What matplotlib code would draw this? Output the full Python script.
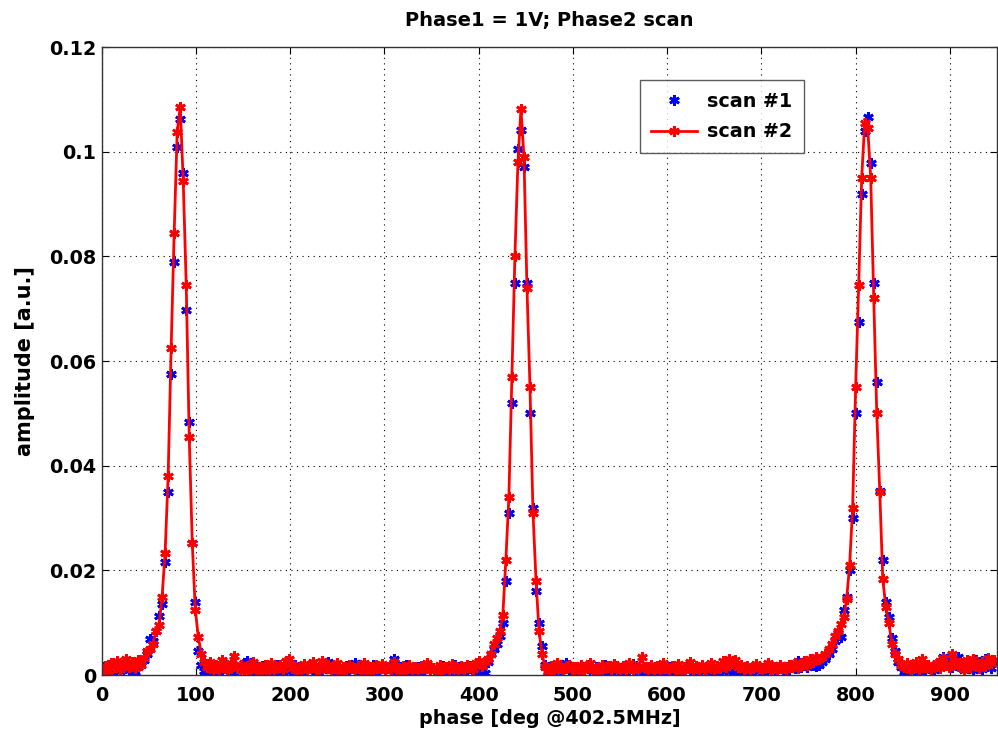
import numpy as np
import matplotlib
matplotlib.use("Agg")
import matplotlib.pyplot as plt

# Phase scan amplitudes, in units of 1e-3 a.u. (one value per scan step)
scan1_milli = [
    1.5, 0.6, 1.9, 0.4, 1.2, 2.0, 0.7, 1.4, 2.3, 0.9,
    1.8, 0.6, 1.5, 2.4, 2.8,
    4.0, 6.9, 6.5, 8.5, 11.3, 13.5, 21.6, 35.0, 57.5, 79.0,
    100.9, 106.2, 96.0, 69.8, 48.4, 25.3, 13.9, 4.6, 2.0, 0.8,
    0.5, 1.2, 1.8, 0.6, 1.4, 0.9, 2.0, 1.1, 0.5, 1.6,
    0.8, 1.3, 2.2, 2.7, 1.0, 0.6, 1.5, 0.9, 1.7, 1.2,
    0.7, 1.4, 1.0, 1.9, 0.5, 1.3, 0.8, 1.6, 1.1, 2.0,
    1.2, 0.6, 1.5, 0.9, 1.8, 1.1, 0.5, 1.4, 1.0, 1.7,
    2.4, 1.0, 0.7, 1.5, 1.2, 0.6, 1.8, 0.9, 1.4, 2.2,
    0.8, 1.3, 0.6, 1.7, 1.1, 2.0, 0.7, 1.2, 1.6, 0.9,
    1.4, 1.0, 3.1, 0.6, 1.5, 1.1, 1.9, 0.8, 1.3, 1.0,
    1.6, 0.7, 1.2, 1.8, 0.9, 1.4, 1.1, 0.6, 1.7, 1.0,
    1.3, 0.8, 1.9, 1.2, 0.7, 1.5, 1.0, 1.8, 0.9, 0.5,
    0.4, 1.5, 0.3,
    2.5, 4.0, 5.0, 6.0, 7.5, 10.0, 18.0, 31.0, 52.0, 75.0,
    100.5, 104.2, 97.0, 75.0, 50.0, 32.0, 16.0, 9.9, 5.5, 2.0,
    0.5,
    0.3, 1.2, 1.8, 0.7, 1.4, 2.2, 0.9, 1.5, 1.1, 0.6,
    1.7, 1.0, 2.0, 1.3, 0.8, 1.6, 1.2, 0.5, 1.9, 1.0,
    1.4, 0.7, 1.8, 1.1, 0.6, 1.5, 1.0, 2.1, 0.8, 1.3,
    1.2, 0.9, 1.6, 0.5, 1.4, 1.0, 1.8, 0.7, 1.2, 1.5,
    0.8, 1.6, 1.1, 0.5, 1.3, 1.9, 0.9, 1.4, 0.6, 1.2,
    1.7, 0.8, 1.3, 1.0, 0.5, 1.5, 1.1, 1.8, 0.7, 1.4,
    1.0, 1.6, 0.6, 1.3, 0.9, 1.7, 0.5, 1.2, 1.5, 0.8,
    1.4, 1.1, 1.9, 0.7, 1.6, 1.3, 2.0, 1.0, 1.5, 1.2,
    1.8, 1.4, 2.7, 1.6, 2.2, 1.5, 2.4, 2.0, 1.8,
    2.0, 2.5, 3.0, 4.0, 5.0, 6.5, 8.0, 7.2, 12.5, 15.0,
    20.0, 30.0, 50.0, 67.5, 92.0, 104.0, 106.7, 97.8, 75.0, 56.0,
    35.2, 22.0, 14.0, 11.0, 7.0, 4.5, 2.5, 1.5,
    0.6, 1.4, 0.8, 1.9, 1.2, 0.5, 1.6, 1.0, 2.0, 1.3,
    0.9, 1.7, 2.6, 3.4, 2.0, 3.0, 1.5, 2.2, 3.4, 1.8,
    1.0, 2.4, 1.5, 0.9, 2.8, 1.6, 1.2, 3.0, 2.0, 1.4, 2.5,
]

scan2_milli = [
    1.0, 1.8, 0.8, 2.2, 1.5, 2.6, 1.2, 2.0, 3.0, 1.6,
    2.4, 1.3, 2.8, 2.0, 3.2,
    4.5, 5.0, 6.0, 8.5, 9.5, 15.0, 23.4, 38.0, 62.5, 84.5,
    103.7, 108.6, 94.5, 74.5, 45.4, 25.3, 12.5, 7.3, 4.0, 2.5,
    1.5, 2.4, 1.0, 2.0, 1.2, 2.8, 1.6, 1.0, 2.2, 3.7,
    1.4, 2.0, 0.8, 1.8, 1.2, 2.5, 1.0, 1.6, 0.7, 1.9,
    1.2, 2.2, 0.9, 1.5, 2.0, 1.1, 2.7, 3.1, 1.3, 1.8,
    0.8, 1.5, 2.1, 1.0, 1.7, 2.4, 1.2, 0.9, 2.6, 1.5,
    1.9, 1.0, 1.4, 2.2, 0.7, 1.6, 1.1, 2.0, 1.3, 0.9,
    1.8, 1.2, 2.3, 0.8, 1.5, 1.0, 1.9, 1.4, 2.1, 0.9,
    1.6, 1.1, 2.4, 1.3, 0.8, 1.7, 1.2, 2.0, 1.0, 1.5,
    0.9, 1.8, 1.3, 2.2, 1.0, 1.4, 0.8, 1.9, 1.2, 1.6,
    1.0, 2.1, 1.4, 0.9, 1.7, 1.2, 2.0, 1.5, 1.1, 2.3,
    2.7, 1.8, 2.5,
    3.0, 4.0, 6.0, 7.0, 8.5, 11.5, 22.0, 34.0, 57.0, 80.0,
    98.0, 108.2, 99.0, 74.0, 55.0, 31.0, 18.0, 8.4, 4.0, 1.5,
    0.8,
    1.8, 1.0, 2.2, 1.3, 0.9, 1.7, 2.0, 1.1, 1.5, 0.8,
    1.9, 1.2, 1.6, 2.3, 1.0, 1.4, 0.8, 2.0, 1.3, 1.7,
    1.1, 2.1, 1.4, 0.9, 1.8, 1.2, 2.2, 1.0, 1.6, 1.3,
    3.4, 1.5, 0.9, 2.0, 1.2, 1.7, 1.0, 2.3, 1.4, 1.1,
    1.8, 1.2, 2.1, 0.8, 1.6, 1.3, 2.4, 1.0, 1.7, 1.2,
    2.0, 1.1, 1.5, 2.2, 0.9, 1.8, 1.3, 2.6, 1.5, 3.0,
    2.2, 2.8, 1.6, 2.0, 1.2, 1.8, 1.0, 1.5, 2.1, 1.3,
    1.0, 1.8, 2.3, 1.2, 1.6, 0.9, 2.0, 1.4, 1.1, 1.9,
    1.5, 2.2, 1.3, 1.8, 2.6, 2.0, 3.0, 2.5, 3.4,
    3.0, 3.5, 4.0, 5.0, 6.0, 7.5, 8.5, 9.7, 11.0, 14.5,
    21.0, 32.0, 55.0, 74.5, 95.0, 105.5, 104.5, 95.0, 72.0, 50.0,
    35.0, 18.3, 13.0, 10.0, 6.0, 4.0, 3.0, 2.0,
    1.5, 2.2, 1.0, 1.8, 2.5, 1.2, 3.0, 1.6, 2.0, 1.1,
    1.7, 2.3, 1.4, 3.2, 2.0, 1.5, 4.0, 2.6, 1.8, 2.2,
    1.2, 2.8, 1.6, 3.0, 2.0, 1.4, 2.5, 1.8, 3.3, 2.2, 2.9,
]

phase_step = 3.2          # deg per scan step
x_ticks = [0, 100, 200, 300, 400, 500, 600, 700, 800, 900]
y_ticks = [0, 0.02, 0.04, 0.06, 0.08, 0.1, 0.12]
y_tick_labels = ["0", "0.02", "0.04", "0.06", "0.08", "0.1", "0.12"]

scan1 = np.array(scan1_milli) * 1e-3
scan2 = np.array(scan2_milli) * 1e-3
phase = np.arange(len(scan2)) * phase_step

plt.rcParams["font.family"] = ["DejaVu Sans"]
plt.rcParams["font.weight"] = "bold"

fig = plt.figure(figsize=(9.98, 7.31), dpi=100)
ax = fig.add_axes([0.102, 0.0766, 0.897, 0.859])

asterisk = (6, 2, 0)
ax.plot(phase, scan1, linestyle="none", marker=asterisk, color="#0000ff",
        markersize=7.5, markeredgewidth=2.0, label="scan #1")
ax.plot(phase, scan2, linestyle="-", linewidth=2.0, marker=asterisk,
        color="#ff0000", markersize=7.5, markeredgewidth=2.0, label="scan #2")

ax.set_xlim(0, 950)
ax.set_ylim(0, 0.12)
ax.set_xticks(x_ticks)
ax.set_yticks(y_ticks)
ax.set_yticklabels(y_tick_labels)
ax.tick_params(axis="both", direction="in", length=5, width=0.8,
               top=True, right=True, labelsize=13.8)
ax.tick_params(axis="x", pad=8)
ax.tick_params(axis="y", pad=4)
for lab in ax.get_xticklabels() + ax.get_yticklabels():
    lab.set_fontweight("bold")

ax.grid(True, color="black", linestyle=(0, (1, 4)), linewidth=0.8)
for sp in ax.spines.values():
    sp.set_linewidth(1.0)
    sp.set_color("#333333")

ax.set_title("Phase1 = 1V; Phase2 scan", fontsize=14, fontweight="bold",
             pad=15)
ax.set_xlabel("phase [deg @402.5MHz]", fontsize=13.8, fontweight="bold",
              labelpad=3)
ax.set_ylabel("amplitude [a.u.]", fontsize=15, fontweight="bold",
              labelpad=10)

leg = ax.legend(loc="upper left", bbox_to_anchor=(0.601, 0.947),
                borderaxespad=0, fontsize=13.8, frameon=True, fancybox=False,
                handlelength=2.4, borderpad=0.6, labelspacing=0.6,
                handletextpad=0.5)
leg.get_frame().set_edgecolor("#333333")
leg.get_frame().set_linewidth(1.0)

fig.savefig("out.png", dpi=100)
